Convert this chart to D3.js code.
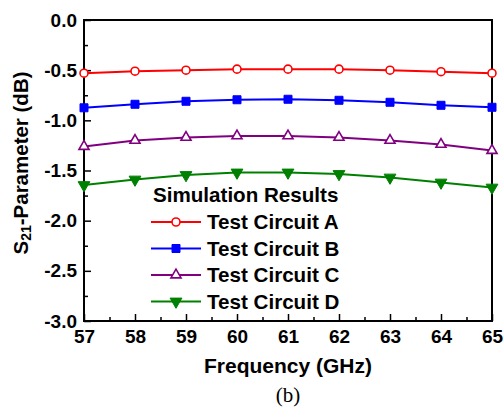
<!DOCTYPE html>
<html>
<head>
<meta charset="utf-8">
<script src="https://cdn.jsdelivr.net/npm/d3@7"></script>
<style>
  body { margin: 0; background: #fff; }
  text { font-family: "Liberation Sans", Arial, sans-serif; font-weight: bold; fill: #000; }
</style>
</head>
<body>
<script>
// data
const freqs = [57, 58, 59, 60, 61, 62, 63, 64, 65];
const circuitA = [-0.53, -0.51, -0.50, -0.49, -0.49, -0.49, -0.50, -0.515, -0.53];
const circuitB = [-0.875, -0.84, -0.81, -0.795, -0.79, -0.80, -0.82, -0.85, -0.87];
const circuitC = [-1.26, -1.20, -1.17, -1.155, -1.155, -1.17, -1.20, -1.24, -1.30];
const circuitD = [-1.645, -1.59, -1.545, -1.52, -1.52, -1.535, -1.57, -1.62, -1.67];
const seriesNames = ["Test Circuit A", "Test Circuit B", "Test Circuit C", "Test Circuit D"];
const yTicks = [0, -0.5, -1.0, -1.5, -2.0, -2.5, -3.0];
const xTicks = [57, 58, 59, 60, 61, 62, 63, 64, 65];

const series = [
  { name: seriesNames[0], values: circuitA, color: "#ff0000", marker: "circle" },
  { name: seriesNames[1], values: circuitB, color: "#0000ff", marker: "square" },
  { name: seriesNames[2], values: circuitC, color: "#800080", marker: "triangle" },
  { name: seriesNames[3], values: circuitD, color: "#008000", marker: "triangleDown" }
];

const width = 504, height = 408;
const margin = { top: 20, right: 12, bottom: 87, left: 84 };

const svg = d3.select("body").append("svg")
  .attr("width", width)
  .attr("height", height);

const x = d3.scaleLinear().domain([57, 65]).range([margin.left, width - margin.right]);
const y = d3.scaleLinear().domain([-3, 0]).range([height - margin.bottom, margin.top]);

// minor ticks
svg.append("g")
  .attr("transform", `translate(${margin.left},0)`)
  .call(d3.axisLeft(y).tickValues(d3.range(-2.75, 0, 0.5)).tickSize(-4).tickFormat(""))
  .call(g => g.select(".domain").remove())
  .selectAll("line").attr("stroke-width", 1.5);

svg.append("g")
  .attr("transform", `translate(0,${height - margin.bottom})`)
  .call(d3.axisBottom(x).tickValues(d3.range(57.5, 65, 1)).tickSize(-4).tickFormat(""))
  .call(g => g.select(".domain").remove())
  .selectAll("line").attr("stroke-width", 1.5);

// major ticks
const yAxis = svg.append("g")
  .attr("transform", `translate(${margin.left},0)`)
  .call(d3.axisLeft(y).tickValues(yTicks).tickSize(-7).tickPadding(7)
    .tickFormat(d => d.toFixed(1)))
  .call(g => g.select(".domain").remove());
yAxis.selectAll("line").attr("stroke-width", 1.5);
yAxis.selectAll("text").style("font-size", "19px").attr("font-family", null);

const xAxis = svg.append("g")
  .attr("transform", `translate(0,${height - margin.bottom})`)
  .call(d3.axisBottom(x).tickValues(xTicks).tickSize(-7).tickPadding(9)
    .tickFormat(d3.format("d")))
  .call(g => g.select(".domain").remove());
xAxis.selectAll("line").attr("stroke-width", 1.5);
xAxis.selectAll("text").style("font-size", "19px").attr("font-family", null);

// frame
svg.append("rect")
  .attr("x", margin.left)
  .attr("y", margin.top)
  .attr("width", width - margin.left - margin.right)
  .attr("height", height - margin.top - margin.bottom)
  .attr("fill", "none")
  .attr("stroke", "#000")
  .attr("stroke-width", 2);

const symbolFor = {
  circle: d3.symbol().type(d3.symbolCircle).size(50),
  square: d3.symbol().type(d3.symbolSquare).size(64),
  triangle: d3.symbol().type(d3.symbolTriangle).size(44),
  triangleDown: d3.symbol().type(d3.symbolTriangle).size(60)
};

function drawMarker(g, s, cx, cy) {
  const open = s.marker === "circle" || s.marker === "triangle";
  let t = `translate(${cx},${cy})`;
  if (s.marker === "triangleDown") t += " rotate(180)";
  g.append("path")
    .attr("d", symbolFor[s.marker]())
    .attr("transform", t)
    .attr("fill", open ? "#fff" : s.color)
    .attr("stroke", s.color)
    .attr("stroke-width", open ? 1.6 : 1);
}

const line = d3.line()
  .x((d, i) => x(freqs[i]))
  .y(d => y(d));

const plot = svg.append("g");
series.forEach(s => {
  plot.append("path")
    .datum(s.values)
    .attr("d", line)
    .attr("fill", "none")
    .attr("stroke", s.color)
    .attr("stroke-width", 2);
  const mg = plot.append("g");
  s.values.forEach((v, i) => drawMarker(mg, s, x(freqs[i]), y(v)));
});

// legend
const legend = svg.append("g");
legend.append("text")
  .attr("x", 153)
  .attr("y", 202)
  .style("font-size", "20.6px")
  .text("Simulation Results");

series.forEach((s, i) => {
  const cy = 222 + i * 26.5;
  legend.append("line")
    .attr("x1", 151).attr("x2", 201)
    .attr("y1", cy).attr("y2", cy)
    .attr("stroke", s.color)
    .attr("stroke-width", 2);
  drawMarker(legend, s, 176, cy);
  legend.append("text")
    .attr("x", 207)
    .attr("y", cy + 7)
    .style("font-size", "20.6px")
    .text(s.name);
});

// axis titles
svg.append("text")
  .attr("x", (x.range()[0] + x.range()[1]) / 2)
  .attr("y", 373)
  .attr("text-anchor", "middle")
  .style("font-size", "21px")
  .text("Frequency (GHz)");

const yTitle = svg.append("text")
  .attr("transform", "translate(28,163) rotate(-90)")
  .attr("text-anchor", "middle")
  .style("font-size", "20.5px");
yTitle.append("tspan").text("S");
yTitle.append("tspan").attr("dy", 3).style("font-size", "14px").text("21");
yTitle.append("tspan").attr("dy", -3).text("-Parameter (dB)");

svg.append("text")
  .attr("x", (x.range()[0] + x.range()[1]) / 2)
  .attr("y", 402)
  .attr("text-anchor", "middle")
  .style("font-family", "'Liberation Serif', 'Times New Roman', serif")
  .style("font-weight", "normal")
  .style("font-size", "21px")
  .text("(b)");
</script>
</body>
</html>
